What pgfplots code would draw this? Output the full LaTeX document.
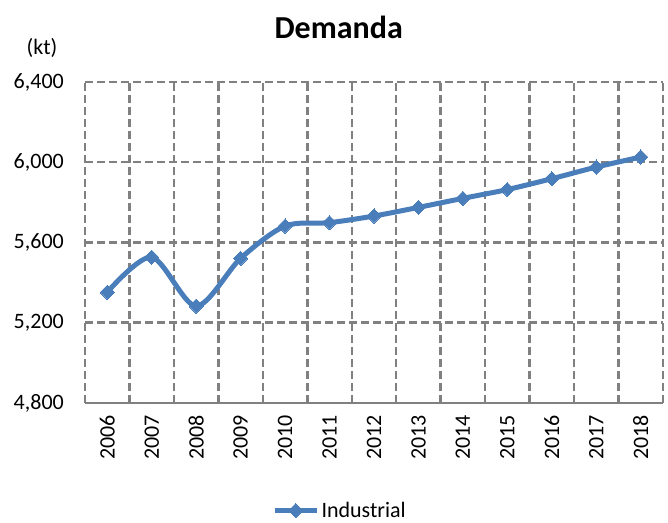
\documentclass[border=0pt]{standalone}
\usepackage{pgfplots}
\pgfplotsset{compat=1.18}
\usepackage{fontspec}
\setmainfont{Carlito}
\definecolor{serblue}{RGB}{74,126,187}
\definecolor{gridgray}{RGB}{128,128,128}
\begin{document}
\begin{tikzpicture}
\useasboundingbox (0,0) rectangle (668bp,523bp);
\node[font=\fontsize{32bp}{36bp}\selectfont\bfseries] at (338.7bp,496bp) {Demanda};
\node[font=\fontsize{22bp}{24bp}\selectfont] at (42bp,475bp) {(kt)};
\begin{axis}[
  at={(85bp,120bp)}, anchor=south west,
  scale only axis, width=578bp, height=321bp,
  xmin=-0.5, xmax=12.5, ymin=4800, ymax=6400,
  xtick={0,...,12},
  xticklabels={2006,2007,2008,2009,2010,2011,2012,2013,2014,2015,2016,2017,2018},
  minor xtick={-0.5,0.5,...,12.5},
  ytick={4800,5200,5600,6000,6400},
  major tick length=0pt, minor tick length=0pt,
  xmajorgrids=false, xminorgrids=true, ymajorgrids=true,
  grid style={gridgray, line width=2.5bp, dash pattern=on 8bp off 4bp},
  minor grid style={gridgray, line width=2.5bp, dash pattern=on 8bp off 4bp},
  axis line style={draw=none},
  tick label style={font=\fontsize{22bp}{24bp}\selectfont},
  /pgf/number format/assume math mode=true,
  /pgf/number format/.cd, 1000 sep={,}, /pgfplots/.cd,
  yticklabel style={inner xsep=21bp, inner ysep=0pt, anchor=east},
  xticklabel style={rotate=90, anchor=east, inner xsep=12bp, inner ysep=0pt},
  clip=false,
  legend style={at={(0.441,-0.335)}, anchor=center, draw=none, fill=none,
    font=\fontsize{22bp}{24bp}\selectfont, inner sep=0pt},
  legend cell align=left,
  legend image code/.code={
    \draw[#1, mark repeat=2, mark phase=2] plot coordinates {(0cm,0cm) (0.75cm,0cm) (1.5cm,0cm)};
  },
]
\addplot[serblue, line width=5bp, smooth, tension=0.5, mark=square*, mark size=5bp,
  mark options={rotate=45, solid, fill=serblue, line width=0pt}]
  coordinates {
  (0,5352) (1,5527) (2,5283) (3,5521) (4,5682) (5,5699) (6,5732)
  (7,5775) (8,5820) (9,5864) (10,5918) (11,5976) (12,6026)
  };
\addlegendentry{Industrial}
\draw[gridgray, line width=2.5bp] (rel axis cs:0,0) -- (rel axis cs:1,0);
\end{axis}
\end{tikzpicture}
\end{document}
